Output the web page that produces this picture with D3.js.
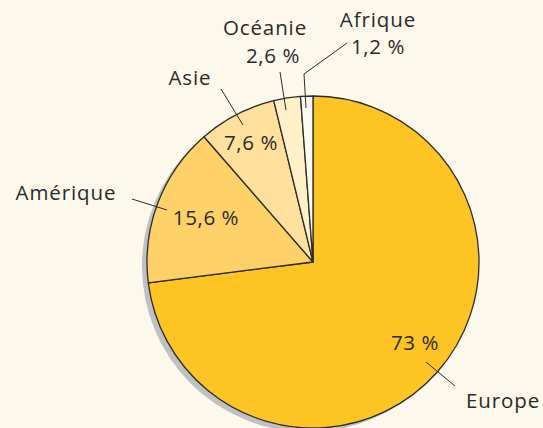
<!DOCTYPE html>
<html>
<head>
<meta charset="utf-8">
<script src="https://cdn.jsdelivr.net/npm/d3@7"></script>
<style>
  html, body { margin: 0; padding: 0; background: #fdf8ec; }
  svg { display: block; }
</style>
</head>
<body>
<div id="chart"></div>
<script>
// data
const regions = ['Europe', 'Amérique', 'Asie', 'Océanie', 'Afrique'];
const shares = [73, 15.6, 7.6, 2.6, 1.2];
const shareLabels = ['73 %', '15,6 %', '7,6 %', '2,6 %', '1,2 %'];

// params
const width = 543;
const height = 428;
const cx = 313;
const cy = 262;
const radius = 166;
const colors = ['#fec424', '#fdd068', '#fedf9c', '#fff0c8', '#fffaf1'];
const font = '"Open Sans", "Noto Sans", sans-serif';

// annotation layout (text anchors and leader lines)
const layout = {
  'Europe':   { name: [503, 408], value: [415, 350], line: [[426, 362], [455, 386]] },
  'Amérique': { name: [66, 200],  value: [206, 225], line: [[132, 199], [167, 210]] },
  'Asie':     { name: [190, 85],  value: [251, 150], line: [[221, 89], [243, 125]] },
  'Océanie':  { name: [265, 35],  value: [273, 63],  line: [[280, 72], [286, 110]] },
  'Afrique':  { name: [378, 27],  value: [378, 54],  line: [[347, 43], [304, 74], [306, 108]] }
};

const svg = d3.select('#chart').append('svg')
  .attr('width', width)
  .attr('height', height);

svg.append('rect')
  .attr('width', width)
  .attr('height', height)
  .attr('fill', '#fdf8ec');

const pie = d3.pie().sort(null).value(d => d.share);
const arc = d3.arc().innerRadius(0).outerRadius(radius);
const data = regions.map((r, i) => ({ region: r, share: shares[i], label: shareLabels[i], color: colors[i] }));

// shadow
svg.append('circle')
  .attr('cx', cx - 5)
  .attr('cy', cy + 4)
  .attr('r', radius)
  .attr('fill', '#bfc0c4');

const g = svg.append('g').attr('transform', `translate(${cx},${cy})`);

g.selectAll('path')
  .data(pie(data))
  .enter()
  .append('path')
  .attr('d', arc)
  .attr('fill', d => d.data.color)
  .attr('stroke', '#2b2b2b')
  .attr('stroke-width', 1.3)
  .attr('stroke-linejoin', 'round');

// leader lines
const line = d3.line();
svg.selectAll('path.leader')
  .data(data)
  .enter()
  .append('path')
  .attr('class', 'leader')
  .attr('d', d => line(layout[d.region].line))
  .attr('fill', 'none')
  .attr('stroke', '#2b2b2b')
  .attr('stroke-width', 1);

// names
svg.selectAll('text.name')
  .data(data)
  .enter()
  .append('text')
  .attr('class', 'name')
  .attr('x', d => layout[d.region].name[0])
  .attr('y', d => layout[d.region].name[1])
  .attr('text-anchor', 'middle')
  .style('font-family', font)
  .style('font-size', '20.5px')
  .style('letter-spacing', '0.9px')
  .attr('fill', '#2a2a2a')
  .text(d => d.region);

// values
svg.selectAll('text.value')
  .data(data)
  .enter()
  .append('text')
  .attr('class', 'value')
  .attr('x', d => layout[d.region].value[0])
  .attr('y', d => layout[d.region].value[1])
  .attr('text-anchor', 'middle')
  .style('font-family', font)
  .style('font-size', '20.5px')
  .style('letter-spacing', '0.6px')
  .attr('fill', '#2a2a2a')
  .text(d => d.label);
</script>
</body>
</html>
